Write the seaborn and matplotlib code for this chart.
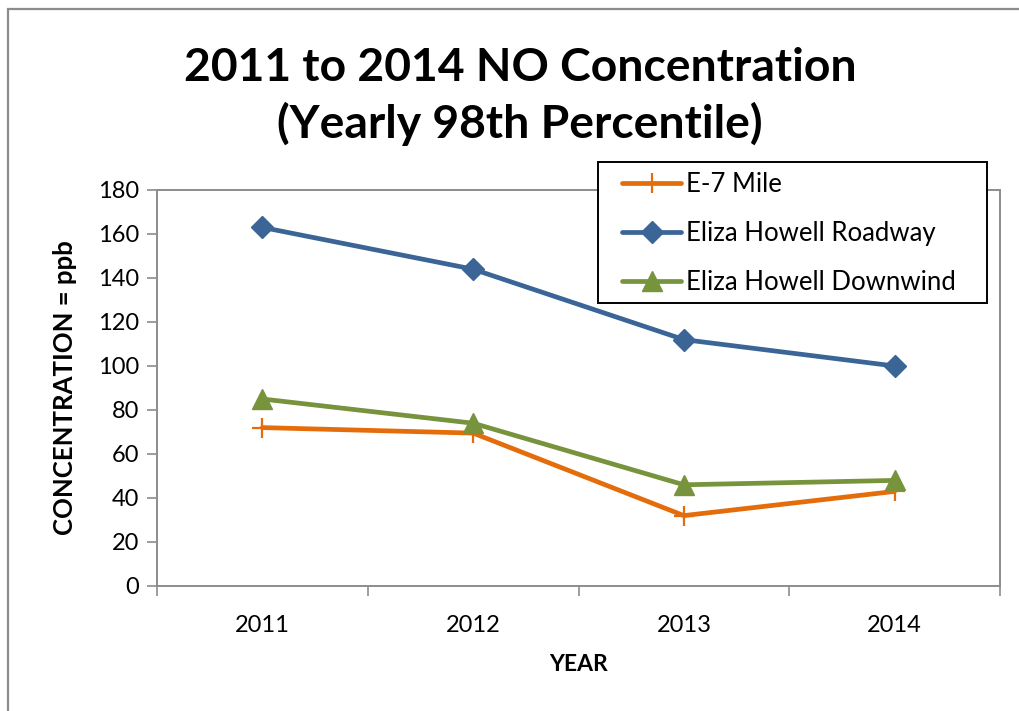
import matplotlib
matplotlib.use("Agg")
import matplotlib.pyplot as plt
import seaborn as sns
import pandas as pd
from matplotlib.patches import Rectangle

years = ["2011", "2012", "2013", "2014"]
e7_mile = [72, 69.5, 32, 43]
roadway = [163, 144, 112, 100]
downwind = [85, 74, 46, 48]
series_names = ["E-7 Mile", "Eliza Howell Roadway", "Eliza Howell Downwind"]
yticks = list(range(0, 181, 20))

sns.set_theme(style="white")
plt.rcParams["font.family"] = ["Lato", "DejaVu Sans"]
plt.rcParams["text.color"] = "black"
plt.rcParams["axes.labelcolor"] = "black"
plt.rcParams["xtick.color"] = "black"
plt.rcParams["ytick.color"] = "black"

W, H = 1019, 711
fig = plt.figure(figsize=(W / 100, H / 100), dpi=100)
ax = fig.add_axes([157/W, 1-586/H, (1000-157)/W, (586-190)/H])

# outer chart border
fig.patches.append(Rectangle((8/W, -0.1), 1.2, 1-9/H+0.1, transform=fig.transFigure,
                             fill=False, edgecolor="#8c8c8c", linewidth=1.6, zorder=0))

xpos = list(range(len(years)))
styles = [
    (e7_mile, "#E46C0A", "+", 15, 1.6),
    (roadway, "#3A6596", "D", 11, 1.0),
    (downwind, "#77933C", "^", 14, 1.0),
]
for name, (vals, col, mk, ms, mew) in zip(series_names, styles):
    df = pd.DataFrame({"x": xpos, "y": vals})
    sns.lineplot(data=df, x="x", y="y", ax=ax, color=col, linewidth=3.4,
                 marker=mk, markersize=ms, markeredgewidth=mew,
                 markeredgecolor=col, label=name)

ax.set_xlim(-0.5, len(years) - 0.5)
ax.set_ylim(0, 180)
ax.set_yticks(yticks)
ax.set_yticklabels([str(v) for v in yticks], fontsize=17)
ax.set_xticks([i - 0.5 for i in range(len(years) + 1)])
ax.set_xticklabels([""] * (len(years) + 1))
ax.set_xticks(xpos, minor=True)
ax.set_xticklabels(years, minor=True, fontsize=17)
ax.tick_params(axis="x", which="major", direction="out", length=7, width=1.2, color="#8c8c8c", bottom=True)
ax.tick_params(axis="x", which="minor", length=0, pad=21, bottom=True)
ax.tick_params(axis="y", direction="out", length=7, width=1.2, color="#8c8c8c", left=True, pad=6)

for s in ax.spines.values():
    s.set_visible(True)
    s.set_color("#8c8c8c")
    s.set_linewidth(1.4)

ax.set_xlabel("YEAR", fontsize=16.5, fontweight="bold", labelpad=13)
ax.set_ylabel("CONCENTRATION = ppb", fontsize=18.5, fontweight="bold", labelpad=15)

fig.text(520/W, 1-96.5/H, "2011 to 2014 NO Concentration\n(Yearly 98th Percentile)",
         ha="center", va="center", fontsize=33.3, fontweight="bold", linespacing=1.36)

# legend frame drawn separately so its padding matches the reference
fig.patches.append(Rectangle((598/W, 1-303/H), (987-598)/W, (303-162)/H,
                             transform=fig.transFigure, facecolor="white",
                             edgecolor="black", linewidth=1.4, zorder=5))
leg = ax.legend(loc="upper left", bbox_to_anchor=(622/W, 1-172/H),
                bbox_transform=fig.transFigure,
                fontsize=18.5, frameon=False,
                borderpad=0, labelspacing=0.93, handlelength=2.3, handletextpad=0.2,
                borderaxespad=0)
leg.remove()
fig.add_artist(leg)
leg.set_zorder(6)

fig.savefig("out.png", dpi=100)
